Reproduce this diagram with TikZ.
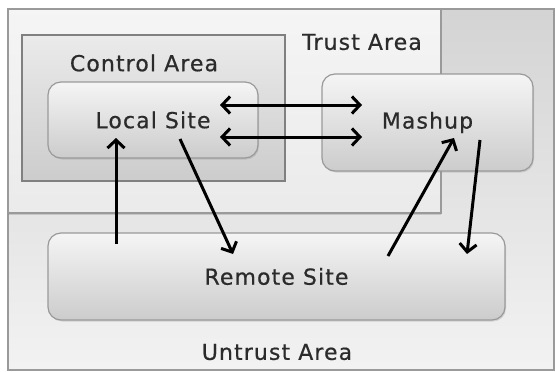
\documentclass[tikz,border=0pt]{standalone}
\usepackage{fontspec}
\setmainfont{DejaVu Sans}[LetterSpace=5,FakeBold=0.6]
\usetikzlibrary{arrows.meta,shadows}
\definecolor{txt}{HTML}{2B2B2B}
\definecolor{edge}{HTML}{9A9A9A}
\tikzset{
  area/.style={draw=edge, line width=1.2pt, inner sep=0pt, text=txt},
  site/.style={draw=edge, line width=1.2pt, rounded corners=13pt, top color=white!96!black, bottom color=white!80!black, inner sep=0pt, text=txt, drop shadow={shadow xshift=1pt, shadow yshift=-1.5pt, opacity=0.25}},
  lbl/.style={text=txt, inner sep=0pt},
  flow/.style={line width=3pt, -{Straight Barb[length=8pt,width=17pt,line width=3pt]}},
  flow2/.style={line width=3pt, {Straight Barb[length=8pt,width=17pt,line width=3pt]}-{Straight Barb[length=8pt,width=17pt,line width=3pt]}}
}
\begin{document}
\begin{tikzpicture}[x=1pt,y=-1pt,font=\fontsize{22}{26}\selectfont]
\useasboundingbox[fill=white] (0,0) rectangle (555,372);
% untrust area
\node[area, top color=white!83!black, bottom color=white!95!black, minimum width=546pt, minimum height=361pt] (untrust) at (281,189.5) {};
% trust area
\node[area, top color=white!96!black, bottom color=white!92!black, minimum width=433pt, minimum height=204pt, drop shadow={shadow xshift=0pt, shadow yshift=-2pt, opacity=0.3}] (trust) at (224.5,111) {};
% control area
\node[area, draw=white!50!black, top color=white!92!black, bottom color=white!80!black, minimum width=263pt, minimum height=146pt] (control) at (153.5,108) {};
% sites
\node[site, minimum width=210pt, minimum height=76pt] (local) at (153,120) {Local Site};
\node[site, minimum width=211pt, minimum height=97pt] (mashup) at (427.5,122.5) {Mashup};
\node[site, minimum width=457pt, minimum height=87pt] (remote) at (276.5,276.5) {Remote Site};
% area labels
\node[lbl] (tl) at (362,42) {Trust Area};
\node[lbl] (cl) at (144,63) {Control Area};
\node[lbl] (ul) at (277,352) {Untrust Area};
% arrow ends
\coordinate (l1) at (220,105);
\coordinate (m1) at (362,105);
\coordinate (l2) at (220,137);
\coordinate (m2) at (362,137);
\coordinate (ru) at (116,244);
\coordinate (lu) at (116,138);
\coordinate (ld) at (180,139);
\coordinate (rd) at (233,254);
\coordinate (ru2) at (388,256);
\coordinate (mu) at (454,138);
\coordinate (md) at (480,140);
\coordinate (rd2) at (467,254);
\draw[flow2] (l1) -- (m1);
\draw[flow2] (l2) -- (m2);
\draw[flow] (ru) -- (lu);
\draw[flow] (ld) -- (rd);
\draw[flow] (ru2) -- (mu);
\draw[flow] (md) -- (rd2);
\end{tikzpicture}
\end{document}
